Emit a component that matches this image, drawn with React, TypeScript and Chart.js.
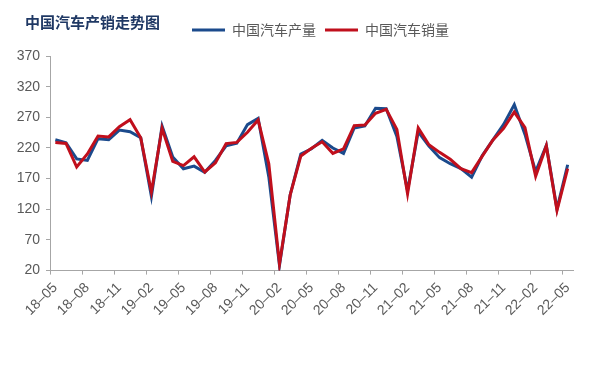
import React, { useEffect, useRef } from 'react';
import { Chart, registerables } from 'chart.js';

Chart.register(...registerables);

const TITLE = '中国汽车产销走势图';
const SERIES_NAMES = ['中国汽车产量', '中国汽车销量'];

const months = [
  '18–05', '18–06', '18–07', '18–08', '18–09', '18–10', '18–11', '18–12',
  '19–01', '19–02', '19–03', '19–04', '19–05', '19–06', '19–07', '19–08', '19–09', '19–10', '19–11', '19–12',
  '20–01', '20–02', '20–03', '20–04', '20–05', '20–06', '20–07', '20–08', '20–09', '20–10', '20–11', '20–12',
  '21–01', '21–02', '21–03', '21–04', '21–05', '21–06', '21–07', '21–08', '21–09', '21–10', '21–11', '21–12',
  '22–01', '22–02', '22–03', '22–04', '22–05',
];

const production = [
  233.3, 228.6, 202.1, 199.7, 235.2, 233.4, 249.2, 246.5,
  236.7, 140.9, 255.8, 205.2, 186.1, 190.4, 180.4, 199.7, 223.6, 227.6, 258.1, 268.2,
  172.8, 28.5, 143.3, 210.2, 218.7, 232.5, 219.9, 211.1, 252.6, 255.8, 284.7, 284.0,
  238.8, 150.3, 246.4, 223.1, 204.2, 194.3, 186.3, 172.5, 207.7, 233.1, 258.5, 290.7,
  242.1, 181.4, 224.1, 120.5, 192.6,
];

const sales = [
  228.8, 227.4, 188.9, 210.3, 239.4, 238.0, 254.8, 266.1,
  236.7, 148.2, 252.0, 198.0, 191.3, 205.6, 180.8, 195.8, 227.1, 229.1, 245.5, 265.6,
  194.1, 31.0, 143.0, 207.0, 219.4, 230.0, 211.2, 218.6, 256.5, 257.3, 276.5, 283.1,
  250.3, 145.5, 252.6, 225.2, 212.8, 201.5, 186.4, 179.9, 206.7, 233.2, 252.2, 278.6,
  253.1, 173.7, 223.4, 118.1, 186.2,
];

const Y_MIN = 20;
const Y_MAX = 370;
const Y_STEP = 50;
const LABEL_EVERY = 3;

const BLUE = '#1B4A8C';
const RED = '#C00F1C';
const AXIS_GRAY = '#A6A6A6';
const TEXT_GRAY = '#595959';

const sideTitle = {
  id: 'sideTitle',
  afterDraw(chart: any) {
    const ctx = chart.ctx;
    ctx.save();
    ctx.font = 'bold 15px "Noto Sans CJK SC"';
    ctx.fillStyle = '#1F3864';
    ctx.textBaseline = 'middle';
    ctx.textAlign = 'left';
    ctx.fillText(TITLE, 25, 22);
    ctx.restore();
  },
};

const legendShift = {
  id: 'legendShift',
  beforeLayout(chart: any) {
    const lg = chart.legend;
    if (lg && !lg.__patched) {
      const orig = lg.fit;
      lg.fit = function () {
        orig.call(this);
        this.height += 9;
      };
      lg.__patched = true;
    }
  },
  afterLayout(chart: any) {
    const lg = chart.legend;
    if (lg) {
      const w = lg.width;
      lg.left = 183;
      lg.right = lg.left + w + 200;
    }
  },
};

export default function App() {
  const ref = useRef<HTMLCanvasElement | null>(null);

  useEffect(() => {
    if (!ref.current) return;
    const chart = new Chart(ref.current, {
      type: 'line',
      data: {
        labels: months,
        datasets: [
          {
            label: SERIES_NAMES[0],
            data: production,
            borderColor: BLUE,
            backgroundColor: BLUE,
            borderWidth: 3,
            pointRadius: 0,
            tension: 0,
            order: 1,
          },
          {
            label: SERIES_NAMES[1],
            data: sales,
            borderColor: RED,
            backgroundColor: RED,
            borderWidth: 3,
            pointRadius: 0,
            tension: 0,
            order: 0,
          },
        ],
      },
      options: {
        responsive: false,
        animation: false,
        layout: { padding: { top: 14, right: 17, bottom: 51, left: 0 } },
        plugins: {
          title: { display: false },
          tooltip: { enabled: false },
          legend: {
            display: true,
            position: 'top',
            align: 'start',
            labels: {
              usePointStyle: true,
              pointStyle: 'line',
              pointStyleWidth: 33,
              boxWidth: 33,
              padding: 9,
              color: TEXT_GRAY,
              font: { family: '"Noto Sans CJK SC"', size: 14 },
              sort: (a: any, b: any) => a.datasetIndex - b.datasetIndex,
            },
          },
        },
        scales: {
          x: {
            type: 'category',
            offset: true,
            grid: {
              offset: true,
              drawOnChartArea: false,
              drawTicks: true,
              tickLength: 4,
              tickColor: (c: any) => (c.index % LABEL_EVERY === 0 ? AXIS_GRAY : 'rgba(0,0,0,0)'),
            },
            border: { display: true, color: AXIS_GRAY, width: 1 },
            ticks: {
              autoSkip: false,
              minRotation: 45,
              maxRotation: 45,
              padding: 5,
              color: TEXT_GRAY,
              font: { family: '"Liberation Sans", Arial', size: 14 },
              callback: (_v: any, i: number) => (i % LABEL_EVERY === 0 ? months[i] : ''),
            },
          },
          y: {
            min: Y_MIN,
            max: Y_MAX,
            grid: {
              drawOnChartArea: false,
              drawTicks: true,
              tickLength: 4,
              tickColor: AXIS_GRAY,
            },
            border: { display: true, color: AXIS_GRAY, width: 1 },
            ticks: {
              stepSize: Y_STEP,
              padding: 6,
              color: TEXT_GRAY,
              font: { family: '"Liberation Sans", Arial', size: 14 },
            },
            afterFit: (scale: any) => {
              scale.width = 50;
            },
          },
        },
      },
      plugins: [sideTitle, legendShift],
    });
    return () => chart.destroy();
  }, []);

  return (
    <div style={{ position: 'fixed', left: 0, top: 0, width: 590, height: 375, background: '#fff' }}>
      <canvas ref={ref} width={590} height={375} style={{ display: 'block' }} />
    </div>
  );
}
